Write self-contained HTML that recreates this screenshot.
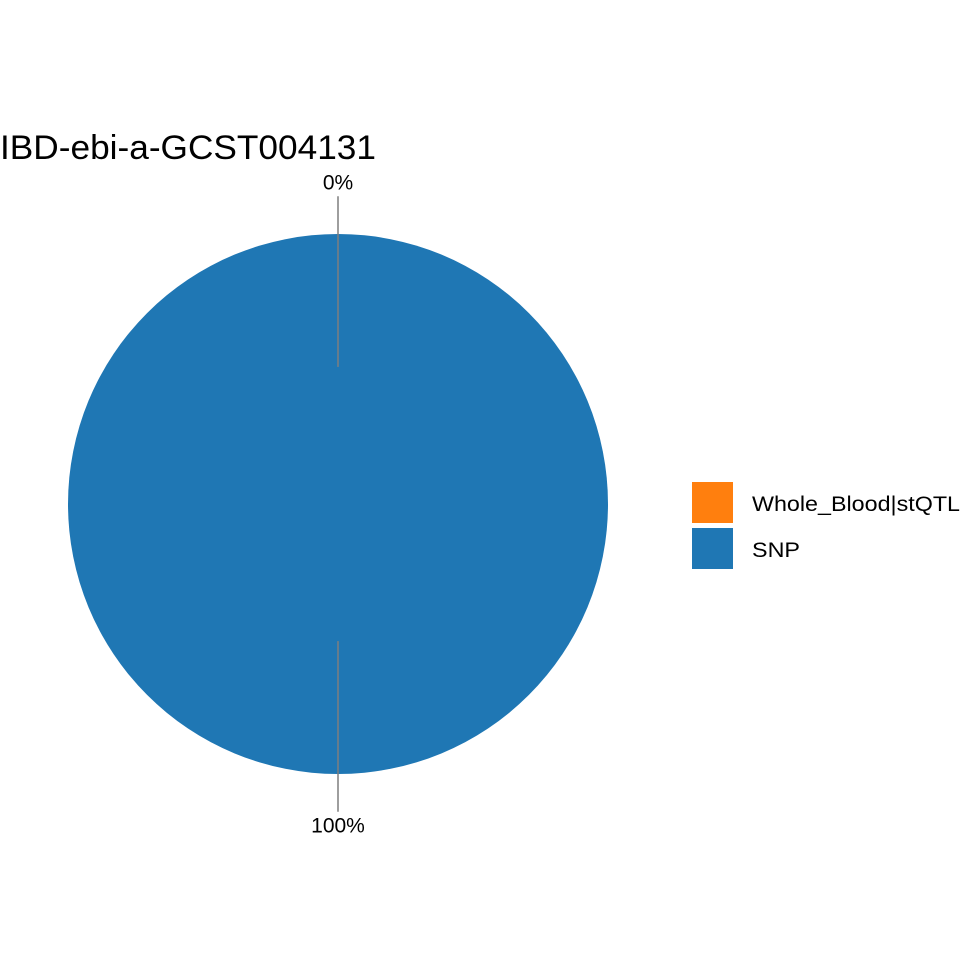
<!DOCTYPE html>
<html><head><meta charset="utf-8"><style>
body{margin:0;background:#fff}
svg{display:block;font-family:"Liberation Sans",sans-serif}
</style></head><body>
<svg id="chart" width="960" height="960" viewBox="0 0 960 960">
<text x="0" y="159" font-size="34" textLength="376" lengthAdjust="spacingAndGlyphs" fill="#000">IBD-ebi-a-GCST004131</text>
<g id="slices"></g>
<g id="labels"></g>
<g>
<rect x="692" y="482" width="41" height="41" fill="#ff7f0e"/>
<text x="752" y="511" font-size="21.5" textLength="208" lengthAdjust="spacingAndGlyphs">Whole_Blood|stQTL</text>
<rect x="692" y="528" width="41" height="41" fill="#1f77b4"/>
<text x="752" y="557" font-size="21.5" textLength="48" lengthAdjust="spacingAndGlyphs">SNP</text>
</g>
</svg>
<script>
const categories = ["Whole_Blood|stQTL", "SNP"];
const values = [0, 100];
const colors = ["#ff7f0e", "#1f77b4"];
const cx = 338, cy = 504, R = 270;
const total = values.reduce((a, b) => a + b, 0);
const NS = "http://www.w3.org/2000/svg";
const gS = document.getElementById("slices"), gL = document.getElementById("labels");
function pt(a, r) { return [cx + r * Math.sin(a), cy - r * Math.cos(a)]; }
let acc = 0;
values.forEach((v, i) => {
  const a0 = acc / total * 2 * Math.PI, a1 = (acc + v) / total * 2 * Math.PI;
  acc += v;
  let el;
  if (v >= total) {
    el = document.createElementNS(NS, "circle");
    el.setAttribute("cx", cx); el.setAttribute("cy", cy); el.setAttribute("r", R);
  } else if (v > 0) {
    el = document.createElementNS(NS, "path");
    const p0 = pt(a0, R), p1 = pt(a1, R);
    el.setAttribute("d", `M${cx},${cy}L${p0[0]},${p0[1]}A${R},${R} 0 ${a1 - a0 > Math.PI ? 1 : 0} 1 ${p1[0]},${p1[1]}Z`);
  }
  if (el) {
    el.setAttribute("fill", colors[i]);
    
    
    gS.appendChild(el);
  }
  const am = (a0 + a1) / 2;
  const q0 = pt(am, R * 0.508), q1 = pt(am, R * 1.14);
  const ln = document.createElementNS(NS, "line");
  ln.setAttribute("x1", q0[0]); ln.setAttribute("y1", q0[1]);
  ln.setAttribute("x2", q1[0]); ln.setAttribute("y2", q1[1]);
  ln.setAttribute("stroke", "#7f7f7f"); ln.setAttribute("stroke-width", "1.5");
  
  
  gL.appendChild(ln);
  const lp = pt(am, R * 1.19);
  const t = document.createElementNS(NS, "text");
  t.setAttribute("x", lp[0]); t.setAttribute("y", lp[1] + 7);
  t.setAttribute("text-anchor", "middle"); t.setAttribute("font-size", "21");
  t.textContent = Math.round(v / total * 100) + "%";
  
  
  gL.appendChild(t);
});
</script>
</body></html>
